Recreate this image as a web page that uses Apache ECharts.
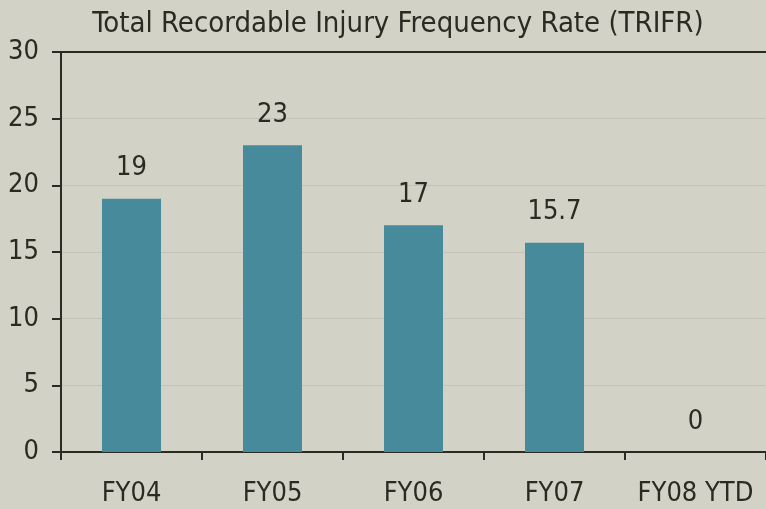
<!DOCTYPE html>
<html><head><meta charset="utf-8">
<script src="https://cdn.jsdelivr.net/npm/echarts@6/dist/echarts.min.js"></script>
<style>html,body{margin:0;padding:0;background:#d3d2c6;}#c{width:766px;height:509px;}</style>
</head><body><div id="c"></div>
<script>
var categories = ['FY04', 'FY05', 'FY06', 'FY07', 'FY08 YTD'];
var values = [19, 23, 17, 15.7, 0];
var yTicks = [0, 5, 10, 15, 20, 25, 30];
var FONT = "'DejaVu Sans Condensed', 'Liberation Sans Narrow', sans-serif";
var TXT = '#2b2b24';
var chart = echarts.init(document.getElementById('c'));
chart.setOption({
  backgroundColor: '#d3d2c6',
  animation: false,
  title: {
    text: 'Total Recordable Injury Frequency Rate (TRIFR)',
    left: 393, textAlign: 'center', top: 5,
    textStyle: {fontFamily: FONT, fontSize: 29, fontWeight: 'normal', color: TXT}
  },
  grid: {left: 61, top: 52, right: -2, bottom: 57, containLabel: false},
  xAxis: [{
    type: 'category', data: categories,
    axisLine: {lineStyle: {color: '#2b2b24', width: 2}},
    axisTick: {show: true, length: 8, alignWithLabel: false, lineStyle: {color: '#2b2b24', width: 2}},
    axisLabel: {fontFamily: FONT, fontSize: 27, color: TXT, margin: 28, interval: 0}
  }, {
    type: 'category', data: categories, position: 'top',
    axisLine: {show: true, lineStyle: {color: '#2b2b24', width: 2}},
    axisTick: {show: false}, axisLabel: {show: false}
  }],
  yAxis: {
    type: 'value', min: yTicks[0], max: yTicks[yTicks.length - 1], interval: 5,
    axisLine: {show: true, lineStyle: {color: '#2b2b24', width: 2}},
    axisTick: {show: true, length: 9, lineStyle: {color: '#2b2b24', width: 2}},
    axisLabel: {fontFamily: FONT, fontSize: 27, color: TXT, margin: 22},
    splitLine: {show: true, lineStyle: {color: '#c4c3bb', width: 1}}
  },
  series: [{
    type: 'bar', data: values, barWidth: 59,
    itemStyle: {color: '#478a9c'},
    label: {show: true, position: 'top', distance: 17, fontFamily: FONT, fontSize: 27, color: TXT}
  }]
});
</script></body></html>
